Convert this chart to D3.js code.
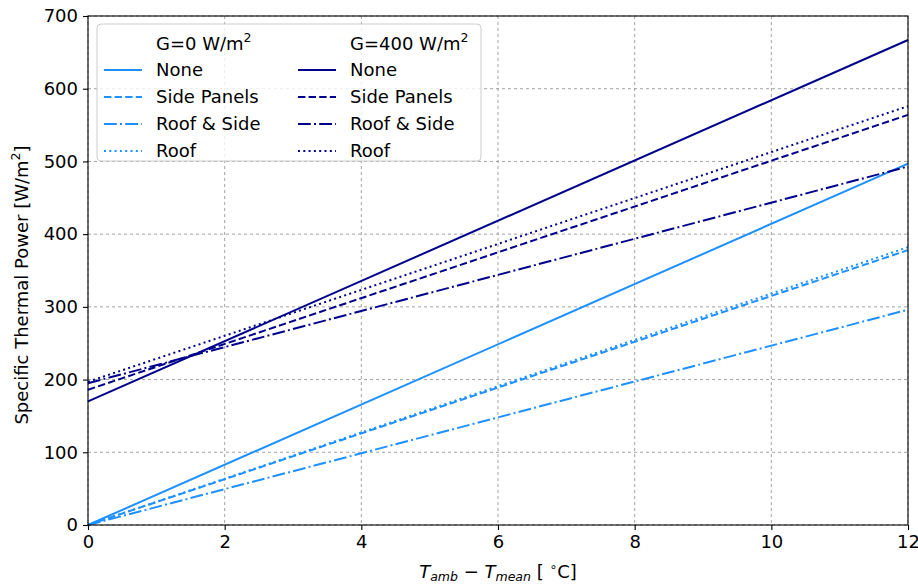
<!DOCTYPE html>
<html><head><meta charset="utf-8">
<script src="https://cdn.jsdelivr.net/npm/d3@7"></script>
<style>body{margin:0;background:#fff}svg{font-family:"DejaVu Sans",sans-serif}</style>
</head><body><svg id="c" width="918" height="584"></svg>
<script>
const xDomain = [0, 12];
const xTicks = [0, 2, 4, 6, 8, 10, 12];
const yTicks = [0, 100, 200, 300, 400, 500, 600, 700];
const configs = ["None", "Side Panels", "Roof & Side", "Roof"];
const irradiance = ["G=0 W/m²", "G=400 W/m²"];
// [value at x=0, value at x=12]
const g0Values = [[0, 497], [0, 378], [0, 296], [0, 382]];
const g400Values = [[170, 667], [186, 564], [195, 493], [197, 576]];
const seriesColors = ["#1e90ff", "#00008b"];
const dashes = [null, "7.4,3.2", "12.8,3.2,2,3.2", "2,3.3"];

const FS = 18, SS = 12.5;
const svg = d3.select("#c");
const m = {l: 88, r: 908, t: 16, b: 525};
const x = d3.scaleLinear().domain(xDomain).range([m.l, m.r]);
const y = d3.scaleLinear().domain([0, 700]).range([m.b, m.t]);

// grid
const g = svg.append("g");
g.selectAll(".gx").data(xTicks).join("line").attr("x1", d => x(d)).attr("x2", d => x(d))
 .attr("y1", m.t).attr("y2", m.b).attr("stroke", "#999").attr("stroke-width", 0.9).attr("stroke-dasharray", "3,3");
g.selectAll(".gy").data(yTicks).join("line").attr("y1", d => y(d)).attr("y2", d => y(d))
 .attr("x1", m.l).attr("x2", m.r).attr("stroke", "#999").attr("stroke-width", 0.9).attr("stroke-dasharray", "3,3");

// lines
const line = d3.line().x(d => x(d[0])).y(d => y(d[1]));
[g0Values, g400Values].forEach((vals, si) => {
  vals.forEach((v, ci) => {
    const pts = [[xDomain[0], v[0]], [xDomain[1], v[1]]];
    svg.append("path").attr("d", line(pts)).attr("fill", "none")
      .attr("stroke", seriesColors[si]).attr("stroke-width", 2)
      .attr("stroke-dasharray", dashes[ci]);
  });
});

// axes
const xa = svg.append("g").attr("transform", `translate(0,${m.b})`)
  .call(d3.axisBottom(x).tickValues(xTicks).tickSize(5).tickPadding(5));
const ya = svg.append("g").attr("transform", `translate(${m.l},0)`)
  .call(d3.axisLeft(y).tickValues(yTicks).tickSize(5).tickPadding(5));
[xa, ya].forEach(a => {
  a.select(".domain").remove();
  a.selectAll("text").attr("font-size", FS).attr("fill", "#000").attr("font-family", "DejaVu Sans");
  a.selectAll("line").attr("stroke", "#000").attr("stroke-width", 1.1);
});
svg.append("rect").attr("x", m.l).attr("y", m.t).attr("width", m.r - m.l).attr("height", m.b - m.t)
  .attr("fill", "none").attr("stroke", "#000").attr("stroke-width", 1.1);

// axis labels
const xl = svg.append("text").attr("x", 498).attr("y", 578).attr("text-anchor", "middle").attr("font-size", FS);
xl.append("tspan").attr("font-style", "italic").text("T");
xl.append("tspan").attr("font-style", "italic").attr("font-size", SS).attr("dy", 3).text("amb");
xl.append("tspan").attr("dy", -3).text(" − ");
xl.append("tspan").attr("font-style", "italic").text("T");
xl.append("tspan").attr("font-style", "italic").attr("font-size", SS).attr("dy", 3).text("mean");
xl.append("tspan").attr("dy", -3).text(" [ ");
xl.append("tspan").attr("font-size", SS).attr("dy", -7).text("∘");
xl.append("tspan").attr("dy", 7).text("C]");

const yl = svg.append("text").attr("transform", "translate(28,285) rotate(-90)").attr("text-anchor", "middle").attr("font-size", FS);
yl.append("tspan").text("Specific Thermal Power [W/m");
yl.append("tspan").attr("font-size", SS).attr("dy", -8).text("2");
yl.append("tspan").attr("dy", 8).text("]");

// legend
const lg = svg.append("g");
lg.append("rect").attr("x", 97).attr("y", 24).attr("width", 384).attr("height", 137).attr("rx", 4)
  .attr("fill", "#fff").attr("fill-opacity", 0.8).attr("stroke", "#ccc").attr("stroke-width", 1);
const colX = [104, 298];
const rowY = [44, 70, 97, 124, 151];
irradiance.forEach((lab, si) => {
  const t = lg.append("text").attr("x", colX[si] + 52).attr("y", rowY[0] + 6).attr("font-size", FS);
  const parts = lab.split("²");
  t.append("tspan").text(parts[0]);
  t.append("tspan").attr("font-size", SS).attr("dy", -8).text("2");
  configs.forEach((c, ci) => {
    lg.append("line").attr("x1", colX[si]).attr("x2", colX[si] + 38)
      .attr("y1", rowY[ci + 1]).attr("y2", rowY[ci + 1])
      .attr("stroke", seriesColors[si]).attr("stroke-width", 2).attr("stroke-dasharray", dashes[ci]);
    lg.append("text").attr("x", colX[si] + 52).attr("y", rowY[ci + 1] + 6).attr("font-size", FS).text(c);
  });
});
</script></body></html>
